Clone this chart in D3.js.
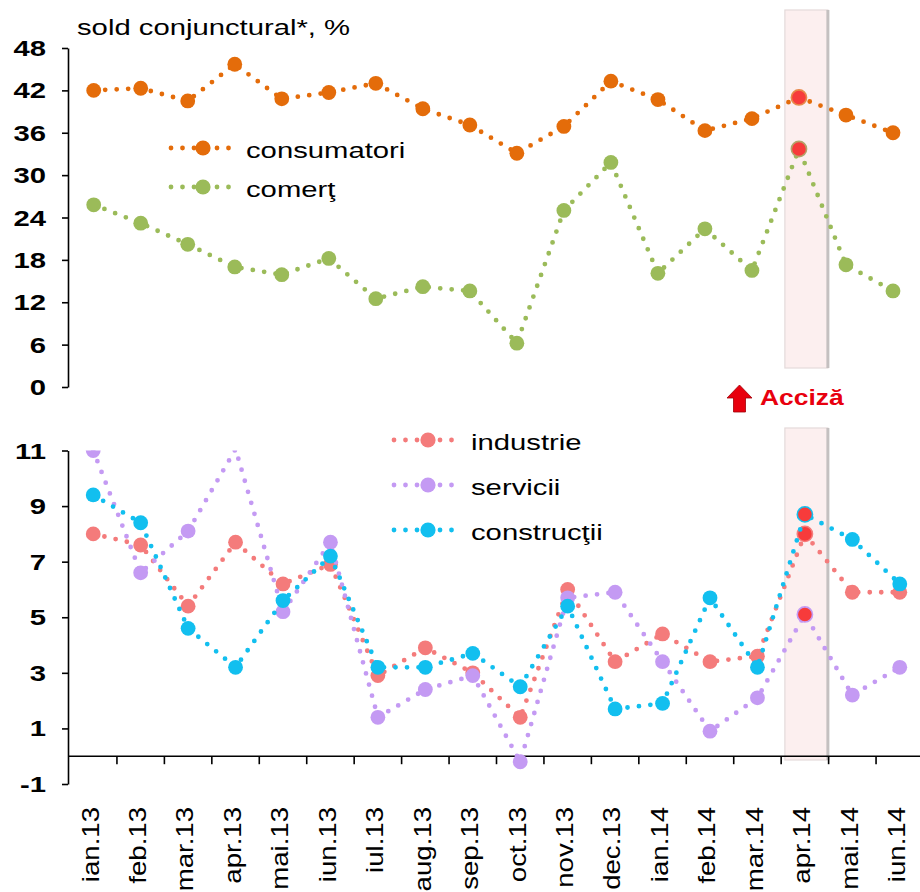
<!DOCTYPE html>
<html><head><meta charset="utf-8">
<script src="https://cdn.jsdelivr.net/npm/d3@7"></script>
<style>body{margin:0;background:#fff}svg{display:block}</style>
</head><body>
<svg id="c" width="920" height="892"></svg>
<script>
// ---- data ----
const months = ["ian.13","feb.13","mar.13","apr.13","mai.13","iun.13","iul.13","aug.13","sep.13","oct.13","nov.13","dec.13","ian.14","feb.14","mar.14","apr.14","mai.14","iun.14"];
const consumatori = [42.0,42.3,40.5,45.7,40.8,41.7,43.0,39.4,37.1,33.1,36.9,43.3,40.7,36.3,38.0,41.0,38.5,36.0];
const comert      = [25.8,23.2,20.2,17.0,15.9,18.2,12.5,14.2,13.6,6.2,25.0,31.8,16.1,22.4,16.5,33.7,17.3,13.6];
const industrie   = [8.0,7.6,5.4,7.7,6.2,6.9,2.9,3.9,3.0,1.4,6.0,3.4,4.4,3.4,3.6,8.0,5.9,5.9];
const servicii    = [11.0,6.6,8.1,11.05,5.2,7.7,1.4,2.4,2.9,-0.2,5.7,5.9,3.4,0.9,2.1,5.1,2.2,3.2];
const constructii = [9.4,8.4,4.6,3.2,5.6,7.2,3.2,3.2,3.7,2.5,5.4,1.7,1.9,5.7,3.2,8.7,7.8,6.2];
const topTicks = [0,6,12,18,24,30,36,42,48];
const botTicks = [-1,1,3,5,7,9,11];
const highlightMonth = "apr.14";
const titleText = "sold conjunctural*, %";
const noteText = "Acciză";
const topSeries = [
  {name:"consumatori", values:consumatori, color:"#e46c0a", ring:"#e8894a"},
  {name:"comerţ", values:comert, color:"#9bbb59", ring:"#b3a46a"}
];
const botSeries = [
  {name:"industrie", values:industrie, color:"#f47b7b", ring:"#f47b7b"},
  {name:"servicii", values:servicii, color:"#c49af3", ring:"#c49af3"},
  {name:"construcţii", values:constructii, color:"#12bfef", ring:"#12bfef"}
];

// ---- setup ----
const FONT = "'Liberation Sans', Arial, sans-serif";
const SX = 1.33;
const HL = "#f73b3b";
const DASH = "0 11.5";
const svg = d3.select("#c");

const xTop = d3.scaleBand().domain(months).range([70.2, 916.5]);
const xBot = d3.scaleBand().domain(months).range([69.5, 923.5]);
const cTop = d => xTop(d) + xTop.bandwidth()/2;
const cBot = d => xBot(d) + xBot.bandwidth()/2;
const yTop = d3.scaleLinear().domain([0,48]).range([387,48]);
const yBot = d3.scaleLinear().domain([-1,11]).range([784,450.5]);

function txt(parent, x, y, s, o={}) {
  const tf = o.rot
    ? `translate(${x},${y}) rotate(${o.rot}) scale(${o.sx||SX},1)`
    : `translate(${x},${y}) scale(${o.sx||SX},1)`;
  const g = parent.append("g").attr("transform", tf);
  g.append("text").text(s)
    .attr("font-family", FONT).attr("font-size", o.size||22)
    .attr("font-weight", o.weight||"normal")
    .attr("text-anchor", o.anchor||"start")
    .attr("dy", o.dy||0)
    .attr("fill", o.fill||"#000");
  return g;
}

// highlight bands
const bx0 = cBot(highlightMonth) - 20, bx1 = cBot(highlightMonth) + 23;
[[10,368],[428,760]].forEach(([a,b]) => {
  svg.append("rect").attr("x", bx0).attr("y", a).attr("width", bx1-bx0).attr("height", b-a)
    .attr("fill", "#fcefef").attr("stroke", "#e4dada").attr("stroke-width", 1.2);
  svg.append("line").attr("x1", bx1).attr("x2", bx1).attr("y1", a).attr("y2", b)
    .attr("stroke", "#c4c0c0").attr("stroke-width", 3);
});

// ---- top axis ----
const gTopAx = svg.append("g").attr("transform", "translate(68,0)")
  .call(d3.axisLeft(yTop).tickValues(topTicks).tickSize(6).tickSizeOuter(0).tickFormat(""));
gTopAx.selectAll("path,line").attr("stroke", "#000").attr("stroke-width", 1.6);
topTicks.forEach(t => txt(svg, 46, yTop(t)+8, String(t), {anchor:"end", weight:"bold", size:22}));

// ---- bottom axes ----
const gBotAx = svg.append("g").attr("transform", "translate(68,0)")
  .call(d3.axisLeft(yBot).tickValues(botTicks).tickSize(6).tickSizeOuter(0).tickFormat(""));
gBotAx.selectAll("path,line").attr("stroke", "#000").attr("stroke-width", 1.6);
botTicks.forEach(t => txt(svg, 46, yBot(t)+8, String(t), {anchor:"end", weight:"bold", size:22}));
svg.append("line").attr("x1", 68).attr("x2", 920).attr("y1", yBot(0)).attr("y2", yBot(0))
  .attr("stroke", "#000").attr("stroke-width", 1.6);
months.forEach((m,i) => {
  if (i === 0) return;
  svg.append("line").attr("x1", xBot(m)).attr("x2", xBot(m)).attr("y1", yBot(0)).attr("y2", yBot(0)+8)
    .attr("stroke", "#000").attr("stroke-width", 1.6);
});
months.forEach(m => txt(svg, cBot(m) - 3, 807, m, {anchor:"end", rot:-90, sx:1.2, size:23, dy:"0.36em"}));

// ---- series drawing ----
function drawSeries(layer, series, cx, y, domainMax) {
  series.forEach(s => {
    const line = d3.line().x((v,i) => cx(months[i])).y(v => y(v));
    layer.append("path").attr("d", line(s.values)).attr("fill", "none")
      .attr("stroke", s.color).attr("stroke-width", 4.8).attr("stroke-linecap", "round")
      .attr("stroke-dasharray", DASH);
    layer.selectAll(null).data(s.values.map((v,i) => ({v, m:months[i]})).filter(d => d.v <= domainMax))
      .enter().append("circle")
      .attr("cx", d => cx(d.m)).attr("cy", d => y(d.v)).attr("r", d => d.m === highlightMonth ? 7.6 : 7.4)
      .attr("fill", d => d.m === highlightMonth ? HL : s.color)
      .attr("stroke", d => d.m === highlightMonth ? s.ring : "none")
      .attr("stroke-width", 1.6);
  });
}
drawSeries(svg.append("g"), topSeries, cTop, yTop, 48);

svg.append("clipPath").attr("id", "clipB").append("rect")
  .attr("x", 0).attr("y", yBot(11)).attr("width", 920).attr("height", yBot(-1) - yBot(11) + 10);
drawSeries(svg.append("g").attr("clip-path", "url(#clipB)"), botSeries, cBot, yBot, 11);

// ---- legends ----
function legend(items, x0, x1, mx, y0, dy, tx) {
  items.forEach((s, i) => {
    const y = y0 + i*dy;
    svg.append("line").attr("x1", x0).attr("x2", x1).attr("y1", y).attr("y2", y)
      .attr("stroke", s.color).attr("stroke-width", 4.8).attr("stroke-linecap", "round").attr("stroke-dasharray", DASH);
    svg.append("circle").attr("cx", mx).attr("cy", y).attr("r", 7.6).attr("fill", s.color);
    txt(svg, tx, y + 9.5, s.name, {size:22});
  });
}
legend(topSeries, 171, 232, 203, 148, 39, 246);
legend(botSeries, 394, 456, 428, 440, 45, 471);

// ---- title & note ----
txt(svg, 77, 35, titleText, {size:22});
svg.append("path")
  .attr("d", "M727,398 L739.5,385 L752,398 L745.5,398 L745.5,412 L733.5,412 L733.5,398 Z")
  .attr("fill", "#e8000e").attr("stroke", "#a00008").attr("stroke-width", 0.8);
txt(svg, 760, 405, noteText, {size:22, weight:"bold", fill:"#e8000e", sx:1.2});
</script>
</body></html>
